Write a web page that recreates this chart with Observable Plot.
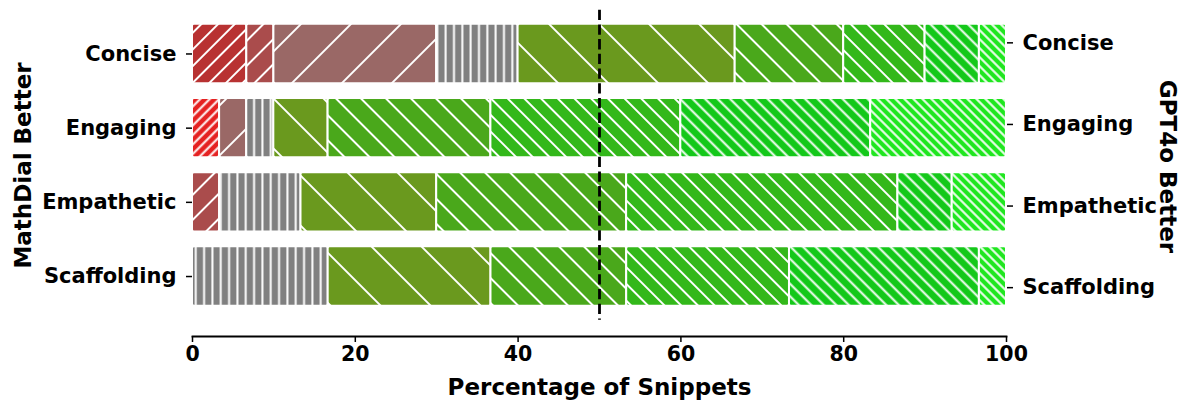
<!DOCTYPE html>
<html><head><meta charset="utf-8">
<script src="https://cdn.jsdelivr.net/npm/d3@7"></script>
<script src="https://cdn.jsdelivr.net/npm/@observablehq/plot@0.6"></script>
<style>html,body{margin:0;padding:0;background:#fff;}</style>
</head><body><div id="chart"></div>
<script>
// ---- data ----
const categories = ["Concise", "Engaging", "Empathetic", "Scaffolding"];
const levels = ["m4", "m3", "m2", "m1", "tie", "g1", "g2", "g3", "g4", "g5"];
// percentage of snippets per preference level (MathDial better → tie → GPT4o better)
const m4  = [0,     3.33,  0,     0];
const m3  = [6.67,  0,     0,     0];
const m2  = [3.33,  0,     3.33,  0];
const m1  = [20,    3.33,  0,     0];
const tie = [10,    3.33,  10,    16.67];
const g1  = [26.67, 6.67,  16.67, 20];
const g2  = [13.33, 20,    23.33, 16.67];
const g3  = [10,    23.33, 33.33, 20];
const g4  = [6.67,  23.33, 6.67,  23.33];
const g5  = [3.33,  16.67, 6.67,  3.33];
const xTicks = [0, 20, 40, 60, 80, 100];
const midline = [50];
const xLabel = "Percentage of Snippets";
const leftLabel = "MathDial Better";
const rightLabel = "GPT4o Better";

// ---- styles ----
const levelStyle = {
  m4:  {color: "#e52222", dir: "/",  step: 9.5},
  m3:  {color: "#b83232", dir: "/",  step: 16.7},
  m2:  {color: "#aa4c4c", dir: "/",  step: 25},
  m1:  {color: "#9a6866", dir: "/",  step: 50},
  tie: {color: "#808080", dir: "|",  step: 8.33},
  g1:  {color: "#6a991e", dir: "\\", step: 50},
  g2:  {color: "#4aa81b", dir: "\\", step: 25},
  g3:  {color: "#33b81a", dir: "\\", step: 16.7},
  g4:  {color: "#14c81a", dir: "\\", step: 12.5},
  g5:  {color: "#1fe61f", dir: "\\", step: 9}
};
const half = 0.4;
const yDomain = [-0.59, 3.59];          // left (main) axis limits
const yRightDomain = [-0.4, 3.4];        // twin right axis limits
const font = "DejaVu Sans";

const series = {m4, m3, m2, m1, tie, g1, g2, g3, g4, g5};
const table = [];
categories.forEach((c, i) => {
  levels.forEach(l => {
    const v = series[l][i];
    if (v > 0) table.push({category: c, index: i, level: l, value: v});
  });
});

// twin axis mapping
const rightToLeft = d3.scaleLinear(yRightDomain, yDomain);
const rightTicks = categories.map((c, i) => rightToLeft(i));
const rightLabelOf = v => categories[Math.round(rightToLeft.invert(v))];

const svg = Plot.plot({
  width: 1180,
  height: 401,
  marginLeft: 192,
  marginRight: 174,
  marginTop: 0,
  marginBottom: 65,
  style: {fontFamily: font, fontWeight: "bold", color: "#000", background: "#fff"},
  x: {domain: [0, 100]},
  y: {domain: yDomain, range: [9.7, 319.8]},
  color: {type: "identity"},
  marks: [
    Plot.rectX(table, {
      x: "value",
      y1: d => d.index - half,
      y2: d => d.index + half,
      fill: d => `url(#hatch-${d.level})`,
      stroke: "white",
      strokeWidth: 2,
      rx: 2
    }),
    Plot.ruleX(midline, {y1: yDomain[0], y2: yDomain[1], stroke: "black", strokeWidth: 2.8, strokeDasharray: "10.3,4.4"}),
    Plot.frame({anchor: "bottom", strokeWidth: 1.8}),
    Plot.axisX(xTicks, {anchor: "bottom", tickSize: 6, tickPadding: 4, fontSize: 20.5, strokeWidth: 1.5, label: null, tickFormat: d => String(d)}),
    Plot.axisY(categories.map((c, i) => i), {anchor: "left", tickSize: 6, tickPadding: 10, fontSize: 21, strokeWidth: 1.5, label: null, tickFormat: i => categories[i]}),
    Plot.axisY(rightTicks, {anchor: "right", tickSize: 6, tickPadding: 10, fontSize: 21, strokeWidth: 1.5, label: null, tickFormat: rightLabelOf}),
    Plot.text([xLabel], {frameAnchor: "bottom", dy: 51, lineAnchor: "middle", fontSize: 23, fontWeight: "bold"}),
    Plot.text([leftLabel], {frameAnchor: "left", dx: -169, dy: -3, rotate: -90, textAnchor: "middle", lineAnchor: "middle", fontSize: 23, fontWeight: "bold"}),
    Plot.text([rightLabel], {frameAnchor: "right", dx: 161, dy: -2, rotate: 90, textAnchor: "middle", lineAnchor: "middle", fontSize: 23, fontWeight: "bold"})
  ]
});

// hatch patterns
const defs = d3.select(svg).insert("defs", ":first-child");
levels.forEach(l => {
  const s = levelStyle[l];
  const diag = s.dir !== "|";
  const p = diag ? s.step / Math.SQRT2 : s.step;
  const pat = defs.append("pattern")
    .attr("id", `hatch-${l}`)
    .attr("patternUnits", "userSpaceOnUse")
    .attr("width", p).attr("height", p);
  if (diag) pat.attr("patternTransform", s.dir === "/" ? "rotate(45)" : "rotate(-45)");
  pat.append("rect").attr("width", p).attr("height", p).attr("fill", s.color);
  pat.append("line").attr("x1", p / 2).attr("x2", p / 2).attr("y1", -1).attr("y2", p + 1)
    .attr("stroke", "white").attr("stroke-width", 2);
});

document.getElementById("chart").appendChild(svg);
</script>
</body></html>
